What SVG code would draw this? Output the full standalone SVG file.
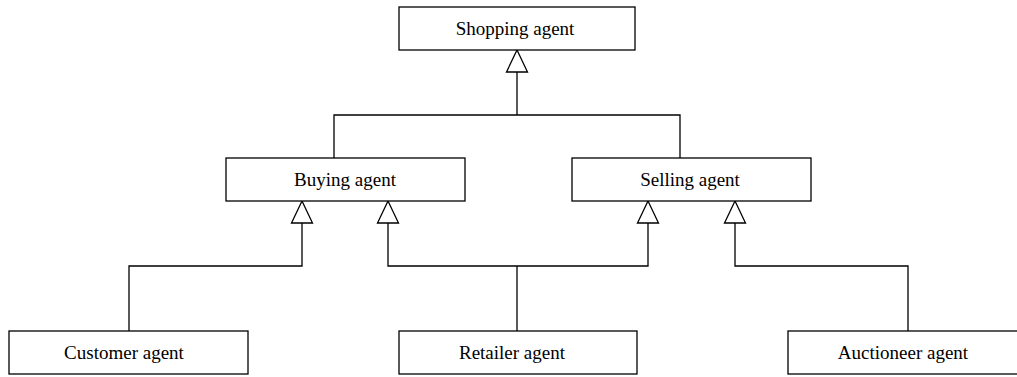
<svg xmlns="http://www.w3.org/2000/svg" width="1017" height="377" viewBox="0 0 1017 377">
  <style>
    .box { fill: #ffffff; stroke: #000000; stroke-width: 1.3; }
    .label { font-family: "Liberation Serif", "Times New Roman", serif; font-size: 19px; fill: #000000; text-anchor: middle; }
    .wire { fill: none; stroke: #000000; stroke-width: 1.3; }
    .head { fill: #ffffff; stroke: #000000; stroke-width: 1.3; }
  </style>
  <rect width="1017" height="377" fill="#ffffff"/>

  <!-- generalisation connectors -->
  <g id="connectors">
    <!-- Buying / Selling to Shopping -->
    <polyline class="wire" points="334,158 334,115 680,115 680,158"/>
    <line class="wire" x1="517" y1="115" x2="517" y2="72"/>
    <polygon class="head" points="517,50 506.5,72 527.5,72"/>

    <!-- Customer to Buying -->
    <polyline class="wire" points="129,331 129,266 302,266 302,223"/>
    <polygon class="head" points="302,201 291.5,223 312.5,223"/>

    <!-- Retailer to Buying and Selling -->
    <line class="wire" x1="517" y1="331" x2="517" y2="266"/>
    <polyline class="wire" points="388,223 388,266 648,266 648,223"/>
    <polygon class="head" points="388,201 377.5,223 398.5,223"/>
    <polygon class="head" points="648,201 637.5,223 658.5,223"/>

    <!-- Auctioneer to Selling -->
    <polyline class="wire" points="908,331 908,266 735,266 735,223"/>
    <polygon class="head" points="735,201 724.5,223 745.5,223"/>
  </g>

  <g id="shopping-agent">
    <rect class="box" x="399" y="7" width="236" height="43"/>
    <text class="label" x="515" y="35">Shopping agent</text>
  </g>

  <g id="buying-agent">
    <rect class="box" x="226" y="158" width="239" height="43"/>
    <text class="label" x="345" y="186">Buying agent</text>
  </g>

  <g id="selling-agent">
    <rect class="box" x="572" y="158" width="239" height="43"/>
    <text class="label" x="690" y="186">Selling agent</text>
  </g>

  <g id="customer-agent">
    <rect class="box" x="9" y="331" width="239" height="43"/>
    <text class="label" x="124" y="359">Customer agent</text>
  </g>

  <g id="retailer-agent">
    <rect class="box" x="399" y="331" width="238" height="43"/>
    <text class="label" x="512" y="359">Retailer agent</text>
  </g>

  <g id="auctioneer-agent">
    <rect class="box" x="788" y="331" width="239" height="43"/>
    <text class="label" x="903" y="359">Auctioneer agent</text>
  </g>
</svg>
